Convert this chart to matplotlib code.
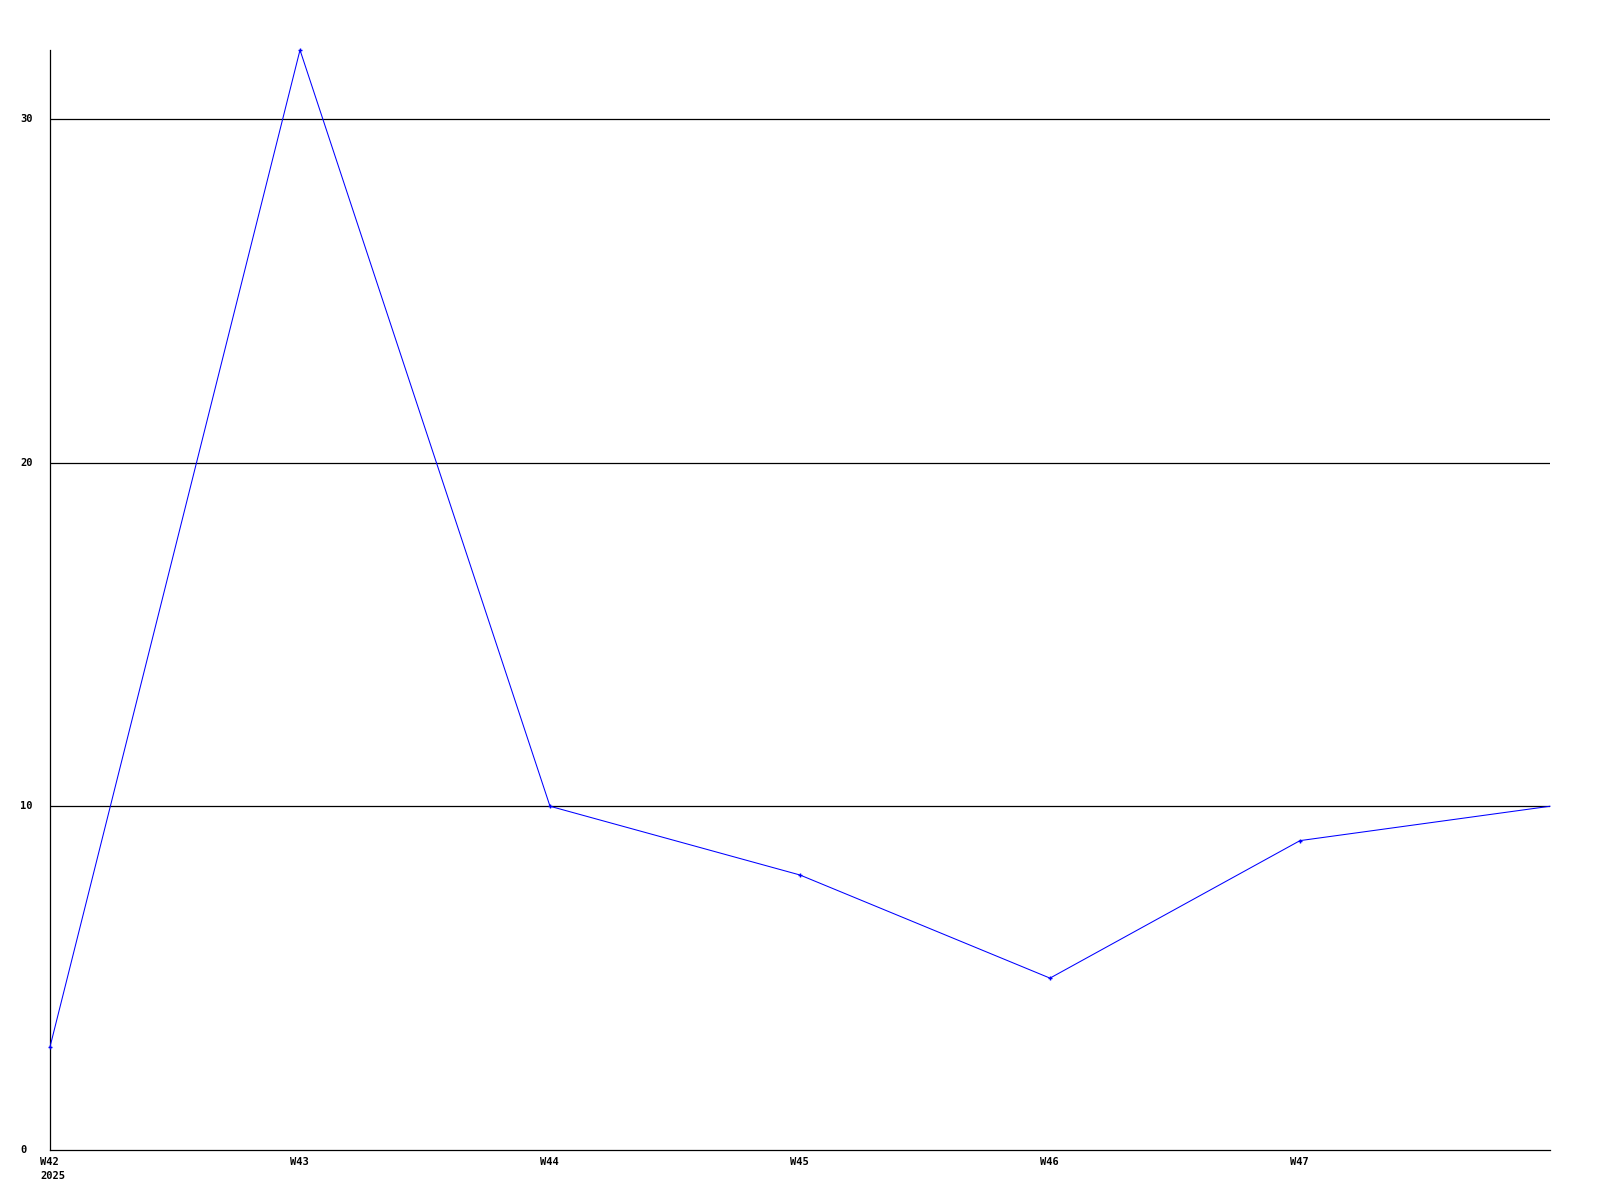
import matplotlib
matplotlib.use("Agg")
import matplotlib.pyplot as plt
import matplotlib.transforms as mtransforms

weeks = ["W42\n2025", "W43", "W44", "W45", "W46", "W47", ""]
values = [3, 32, 10, 8, 5, 9, 10]
yticks = [0, 10, 20, 30]

fig = plt.figure(figsize=(16, 12), dpi=100)
ax = fig.add_axes([50/1600, 1 - 1150/1200, 1500/1600, 1100/1200])

x = list(range(len(values)))
ax.plot(x, values, color="#0000ff", linewidth=0.75, zorder=3, clip_on=False)
ax.plot(x[:-1], values[:-1], linestyle="none", color="#0000ff", marker="+",
        markersize=3.5, markeredgewidth=1.0, clip_on=False, zorder=4)

ax.set_xlim(0, len(values) - 1)
ax.set_ylim(0, 32)
for y in yticks[1:]:
    ax.axhline(y, color="black", linewidth=0.9, zorder=1)

for s in ["top", "right"]:
    ax.spines[s].set_visible(False)
for s in ["left", "bottom"]:
    ax.spines[s].set_linewidth(0.9)

font = dict(family="DejaVu Sans Mono", weight="bold", size=7.5)
ax.set_xticks(x[:-1])
ax.set_xticklabels(weeks[:-1], ha="left", va="top", linespacing=1.5, **font)
ax.set_yticks(yticks)
ax.set_yticklabels([str(v) for v in yticks], ha="left", va="center", **font)
ax.tick_params(axis="both", length=0)
ax.tick_params(axis="y", pad=21.6)
ax.tick_params(axis="x", pad=5)

off = mtransforms.ScaledTranslation(-10/100, 0, fig.dpi_scale_trans)
for lab in ax.get_xticklabels():
    lab.set_transform(lab.get_transform() + off)

fig.savefig("out.png", dpi=100)
